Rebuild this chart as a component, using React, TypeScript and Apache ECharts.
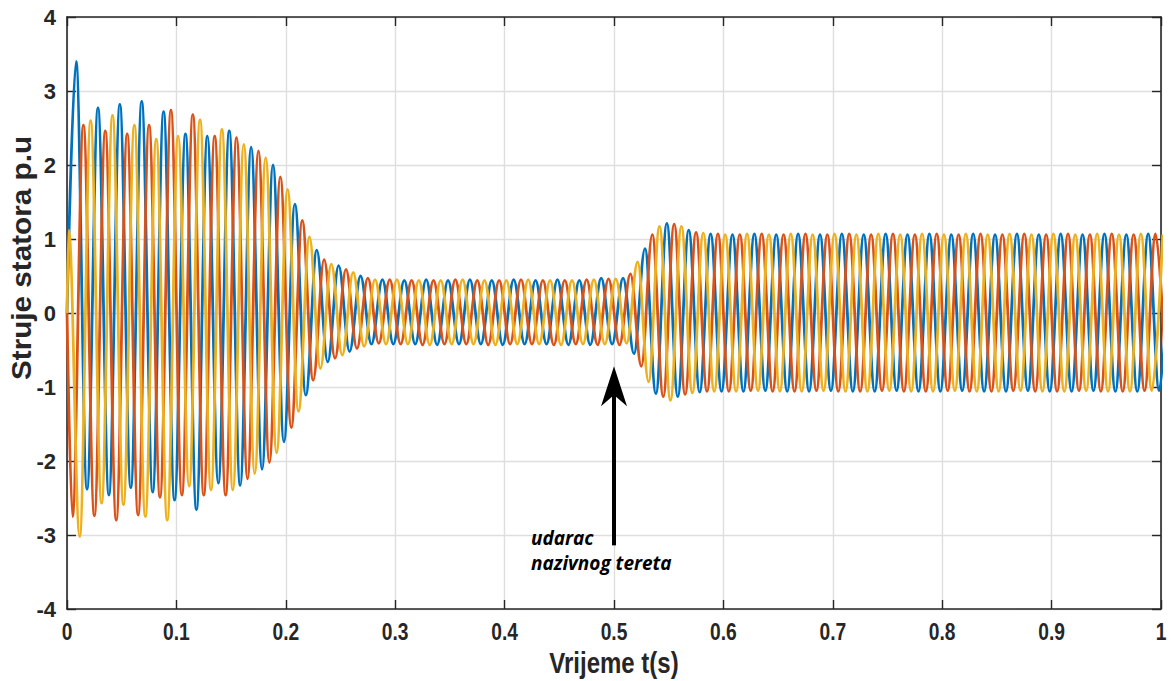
import React, { useEffect, useRef } from 'react';
import * as echarts from 'echarts';

// Waveform extrema (alternating peak / trough, one every half period of 50 Hz)
const HALF_PERIOD = 0.01;
const BLUE_T0 = 0.0083;
const RED_T0 = 0.005;
const YELLOW_T0 = 0.0016;

const BLUE_EXTREMA = [
  3.40, -2.38, 2.77, -2.46, 2.82, -2.36, 2.86, -2.42, 2.72, -2.53,
  2.42, -2.66, 2.39, -2.30, 2.46, -2.33, 2.24, -2.11, 2.00, -1.74,
  1.47, -1.11, 0.85, -0.66, 0.64, -0.52, 0.50, -0.42, 0.45, -0.42,
  0.44, -0.42, 0.45, -0.43, 0.44, -0.42, 0.45, -0.42, 0.44, -0.43,
  0.45, -0.42, 0.44, -0.42, 0.45, -0.43, 0.44, -0.43, 0.47, -0.42,
  0.47, -0.55, 0.87, -1.09, 1.21, -1.13, 1.12, -1.07, 1.07, -1.06,
  1.06, -1.06, 1.07, -1.05, 1.06, -1.06, 1.07, -1.06, 1.06, -1.05,
  1.07, -1.06, 1.06, -1.06, 1.07, -1.05, 1.06, -1.06, 1.07, -1.06,
  1.06, -1.05, 1.07, -1.06, 1.06, -1.06, 1.07, -1.05, 1.06, -1.06,
  1.07, -1.06, 1.06, -1.05, 1.07, -1.06, 1.06, -1.06, 1.07, -1.05,
  1.06,
];

const RED_EXTREMA = [
  -2.75, 2.54, -2.74, 2.46, -2.80, 2.42, -2.73, 2.54, -2.49, 2.74,
  -2.46, 2.68, -2.46, 2.39, -2.46, 2.37, -2.24, 2.19, -2.02, 1.84,
  -1.55, 1.25, -0.91, 0.72, -0.61, 0.59, -0.48, 0.47, -0.41, 0.45,
  -0.42, 0.44, -0.43, 0.44, -0.42, 0.45, -0.42, 0.44, -0.43, 0.44,
  -0.42, 0.45, -0.42, 0.44, -0.43, 0.44, -0.42, 0.45, -0.43, 0.46,
  -0.43, 0.53, -0.72, 1.06, -1.13, 1.20, -1.10, 1.09, -1.06, 1.07,
  -1.06, 1.06, -1.05, 1.07, -1.06, 1.06, -1.06, 1.07, -1.05, 1.06,
  -1.06, 1.07, -1.06, 1.06, -1.05, 1.07, -1.06, 1.06, -1.06, 1.07,
  -1.05, 1.06, -1.06, 1.07, -1.06, 1.06, -1.05, 1.07, -1.06, 1.06,
  -1.06, 1.07, -1.05, 1.06, -1.06, 1.07, -1.06, 1.06, -1.05, 1.07,
  -1.06,
];

const YELLOW_EXTREMA = [
  1.12, -3.02, 2.60, -2.57, 2.67, -2.59, 2.54, -2.75, 2.35, -2.80,
  2.39, -2.34, 2.61, -2.39, 2.48, -2.39, 2.28, -2.17, 2.10, -1.89,
  1.67, -1.33, 1.03, -0.75, 0.66, -0.57, 0.55, -0.45, 0.45, -0.42,
  0.45, -0.42, 0.44, -0.43, 0.44, -0.42, 0.45, -0.42, 0.44, -0.43,
  0.44, -0.42, 0.45, -0.42, 0.44, -0.43, 0.44, -0.42, 0.45, -0.42,
  0.46, -0.41, 0.69, -0.93, 1.17, -1.18, 1.17, -1.08, 1.08, -1.06,
  1.06, -1.06, 1.07, -1.05, 1.06, -1.06, 1.07, -1.06, 1.06, -1.05,
  1.07, -1.06, 1.06, -1.06, 1.07, -1.05, 1.06, -1.06, 1.07, -1.06,
  1.06, -1.05, 1.07, -1.06, 1.06, -1.06, 1.07, -1.05, 1.06, -1.06,
  1.07, -1.06, 1.06, -1.05, 1.07, -1.06, 1.06, -1.06, 1.07, -1.05,
  1.06,
];

const X_MIN = 0;
const X_MAX = 1;
const X_STEP = 0.1;
const X_TICK_LABELS = ['0', '0.1', '0.2', '0.3', '0.4', '0.5', '0.6', '0.7', '0.8', '0.9', '1'];
const Y_MIN = -4;
const Y_MAX = 4;
const Y_STEP = 1;

const X_NAME = 'Vrijeme t(s)';
const Y_NAME = 'Struje statora p.u';

const ARROW_X = 0.5;
const ARROW_TIP = -0.72;
const ARROW_TAIL = -3.14;
const ANNOTATION_LINES = ['udarac', 'nazivnog tereta'];

const COLORS = ['#0072BD', '#D95319', '#EDB120'];

function buildSeries(t0: number, ext: number[]) {
  const pts: number[][] = [[0, 0]];
  ext.forEach((v, k) => pts.push([t0 + k * HALF_PERIOD, v]));
  return pts;
}

const AXIS_COLOR = '#262626';
const GRID_COLOR = '#dedede';
const SANS = '"Liberation Sans", Arial, sans-serif';

export default function App() {
  const ref = useRef<HTMLDivElement>(null);
  useEffect(() => {
    if (!ref.current) return;
    const chart = echarts.init(ref.current, undefined, { renderer: 'svg' });
    const axisLine = { show: true, onZero: false, lineStyle: { color: AXIS_COLOR, width: 1.6 } };
    const tick = { show: true, inside: true, length: 9, lineStyle: { color: AXIS_COLOR, width: 1.4 } };
    const mkLine = (name: string, data: number[][], color: string, z: number) => ({
      type: 'line',
      name,
      data,
      xAxisIndex: 0,
      yAxisIndex: 0,
      showSymbol: false,
      symbol: 'none',
      smooth: 0.36,
      smoothMonotone: 'x',
      clip: true,
      z,
      lineStyle: { color, width: 2.8 },
      emphasis: { disabled: true },
    });
    const option: any = {
      animation: false,
      backgroundColor: '#ffffff',
      grid: { left: 67, right: 10, top: 17, bottom: 72, containLabel: false },
      xAxis: [
        {
          type: 'value', min: X_MIN, max: X_MAX, interval: X_STEP, position: 'bottom',
          axisLine, axisTick: tick,
          axisLabel: { show: false },
          splitLine: { show: true, lineStyle: { color: GRID_COLOR, width: 1.4 } },
        },
        {
          type: 'value', min: X_MIN, max: X_MAX, interval: X_STEP, position: 'top',
          axisLine, axisTick: tick, axisLabel: { show: false }, splitLine: { show: false },
        },
      ],
      yAxis: [
        {
          type: 'value', min: Y_MIN, max: Y_MAX, interval: Y_STEP, position: 'left',
          axisLine, axisTick: tick,
          axisLabel: {
            margin: 11, color: '#262626', fontWeight: 'bold', fontSize: 22,
            fontFamily: SANS,
          },
          splitLine: { show: true, lineStyle: { color: GRID_COLOR, width: 1.4 } },
        },
        {
          type: 'value', min: Y_MIN, max: Y_MAX, interval: Y_STEP, position: 'right',
          axisLine, axisTick: tick, axisLabel: { show: false }, splitLine: { show: false },
        },
      ],
      series: [
        mkLine('A', buildSeries(BLUE_T0, BLUE_EXTREMA), COLORS[0], 2),
        mkLine('B', buildSeries(RED_T0, RED_EXTREMA), COLORS[1], 3),
        mkLine('C', buildSeries(YELLOW_T0, YELLOW_EXTREMA), COLORS[2], 4),
      ],
    };
    chart.setOption(option);

    const toPx = (x: number, y: number) =>
      chart.convertToPixel({ xAxisIndex: 0, yAxisIndex: 0 }, [x, y]) as number[];
    const tip = toPx(ARROW_X, ARROW_TIP);
    const tail = toPx(ARROW_X, ARROW_TAIL);
    const origin = toPx(X_MIN, Y_MIN);
    const end = toPx(X_MAX, Y_MIN);
    const top = toPx(X_MIN, Y_MAX);
    const headH = 40;
    const headW = 13;

    const xLabels = X_TICK_LABELS.map((lab, i) => {
      const p = toPx(X_MIN + i * X_STEP, Y_MIN);
      return {
        type: 'text', z: 100,
        x: p[0], y: p[1] + 23, scaleX: 0.8,
        style: {
          x: 0, y: 0, text: lab,
          font: `bold 24px ${SANS}`,
          fill: '#262626', align: 'center', verticalAlign: 'middle',
        },
      };
    });

    chart.setOption({
      graphic: [
        ...xLabels,
        {
          type: 'text', z: 100,
          x: (origin[0] + end[0]) / 2, y: origin[1] + 54, scaleX: 0.8,
          style: {
            x: 0, y: 0, text: X_NAME,
            font: `bold 30px ${SANS}`,
            fill: '#262626', align: 'center', verticalAlign: 'middle',
          },
        },
        {
          type: 'line', z: 100,
          shape: { x1: tail[0], y1: tail[1], x2: tip[0], y2: tip[1] + 28 },
          style: { stroke: '#000', lineWidth: 4 },
        },
        {
          type: 'polygon', z: 100,
          shape: {
            points: [
              [tip[0], tip[1]],
              [tip[0] + headW, tip[1] + headH],
              [tip[0], tip[1] + headH * 0.72],
              [tip[0] - headW, tip[1] + headH],
            ],
          },
          style: { fill: '#000' },
        },
        {
          type: 'text', z: 100,
          style: {
            x: tip[0] - 83, y: tail[1] - 20,
            text: ANNOTATION_LINES.join('\n'),
            font: 'italic bold 19px "Open Sans", sans-serif',
            fill: '#000', lineHeight: 25, verticalAlign: 'top', align: 'left',
          },
        },
        {
          type: 'text', z: 100,
          x: origin[0] - 46, y: (origin[1] + top[1]) / 2 - 55, rotation: Math.PI / 2, scaleX: 1.06,
          style: {
            x: 0, y: 0,
            text: Y_NAME,
            font: `bold 28px ${SANS}`,
            fill: '#262626', align: 'center', verticalAlign: 'middle',
          },
        },
      ],
    });

    return () => chart.dispose();
  }, []);
  return (
    <div
      ref={ref}
      style={{ position: 'fixed', left: 0, top: 0, width: 1171, height: 681, background: '#fff' }}
    />
  );
}
